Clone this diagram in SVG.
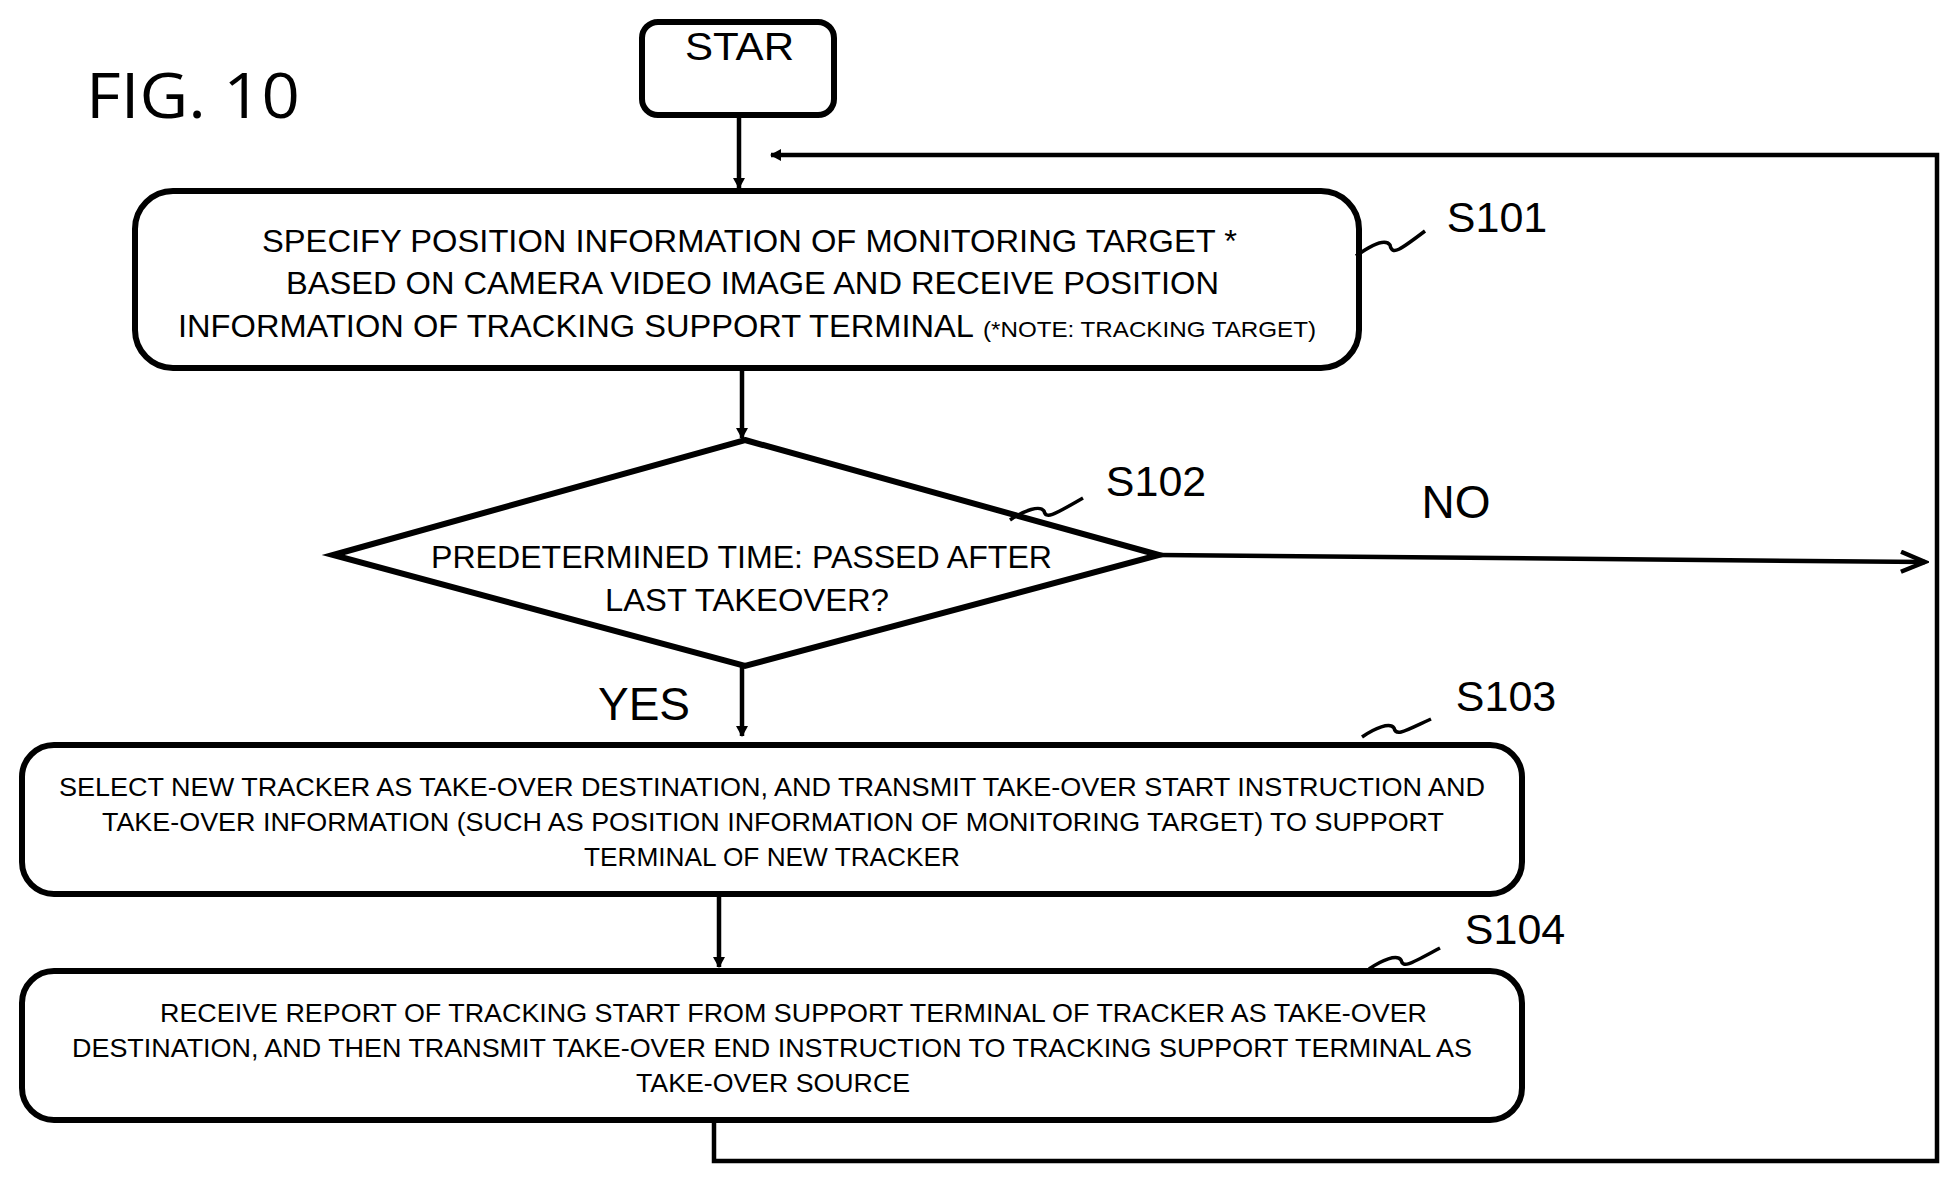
<svg xmlns="http://www.w3.org/2000/svg" width="1959" height="1183" viewBox="0 0 1959 1183">
<style>
text{font-family:"Liberation Sans",Arial,sans-serif;fill:#000}
.b{fill:#fff;stroke:#000;stroke-width:6}
.c{fill:none;stroke:#000;stroke-width:4.5}
.s{fill:none;stroke:#000;stroke-width:3.5}
.t{font-size:31px}
.u{font-size:26px}
.l{font-size:46px;text-anchor:middle}
</style>
<defs><marker id="a" markerWidth="12" markerHeight="12" refX="10" refY="6" orient="auto" markerUnits="userSpaceOnUse"><path d="M0,0 L11,6 L0,12" fill="#000"/></marker>
<marker id="o" markerWidth="30" markerHeight="30" refX="26" refY="12" orient="auto" markerUnits="userSpaceOnUse"><path d="M2,2 L26,12 L2,22" fill="none" stroke="#000" stroke-width="4.5"/></marker></defs>
<rect width="1959" height="1183" fill="#fff"/>
<text x="86" y="118" font-size="62" textLength="214" lengthAdjust="spacingAndGlyphs" style="font-family:'Open Sans','Liberation Sans',sans-serif">FIG. 10</text>
<g id="connectors">
<path class="c" d="M739,87 V188" marker-end="url(#a)"/>
<path class="c" d="M732,87 H746"/>
<path class="c" d="M742,369 V438" marker-end="url(#a)"/>
<path class="c" d="M1159,555 L1925,562" marker-end="url(#o)"/>
<path class="c" d="M742,666 V736" marker-end="url(#a)"/>
<path class="c" d="M719,894 V967" marker-end="url(#a)"/>
<path class="c" d="M714,1120 V1161 H1937 V155 H771" marker-end="url(#a)"/>
<text x="1456" y="518" class="l">NO</text>
<text x="644" y="720" class="l">YES</text>
</g>
<g id="start"><rect class="b" x="642" y="22" width="192" height="93" rx="16"/><text x="685" y="60" style="font-size:38px" textLength="109" lengthAdjust="spacingAndGlyphs">STAR</text></g>
<g id="s101"><rect class="b" x="135" y="191" width="1224" height="177" rx="38"/>
<text class="t" x="262" y="252" textLength="975" lengthAdjust="spacingAndGlyphs">SPECIFY POSITION INFORMATION OF MONITORING TARGET *</text>
<text class="t" x="286" y="294" textLength="933" lengthAdjust="spacingAndGlyphs">BASED ON CAMERA VIDEO IMAGE AND RECEIVE POSITION</text>
<text class="t" x="178" y="337" textLength="796" lengthAdjust="spacingAndGlyphs">INFORMATION OF TRACKING SUPPORT TERMINAL</text>
<text x="983" y="337" style="font-size:22px" textLength="333" lengthAdjust="spacingAndGlyphs">(*NOTE: TRACKING TARGET)</text>
<path class="s" d="M1356,256 C1370,246 1385,238 1390,245 C1392,256 1400,250 1425,231"/>
<text x="1497" y="232" style="font-size:43px" text-anchor="middle">S101</text></g>
<g id="s102"><polygon class="b" points="745,440 1159,555 745,666 333,555"/>
<text class="t" x="431" y="568" textLength="621" lengthAdjust="spacingAndGlyphs">PREDETERMINED TIME: PASSED AFTER</text>
<text class="t" x="605" y="611" textLength="284" lengthAdjust="spacingAndGlyphs">LAST TAKEOVER?</text>
<path class="s" d="M1010,520 C1025,510 1040,505 1044,511 C1046,520 1055,514 1083,498"/>
<text x="1156" y="496" style="font-size:43px" text-anchor="middle">S102</text></g>
<g id="s103"><rect class="b" x="22" y="745" width="1500" height="149" rx="32"/>
<text class="u" x="59" y="796" textLength="1426" lengthAdjust="spacingAndGlyphs">SELECT NEW TRACKER AS TAKE-OVER DESTINATION, AND TRANSMIT TAKE-OVER START INSTRUCTION AND</text>
<text class="u" x="102" y="831" textLength="1342" lengthAdjust="spacingAndGlyphs">TAKE-OVER INFORMATION (SUCH AS POSITION INFORMATION OF MONITORING TARGET) TO SUPPORT</text>
<text class="u" x="584" y="866" textLength="376" lengthAdjust="spacingAndGlyphs">TERMINAL OF NEW TRACKER</text>
<path class="s" d="M1362,737 C1375,728 1390,722 1394,728 C1396,737 1405,731 1431,719"/>
<text x="1506" y="711" style="font-size:43px" text-anchor="middle">S103</text></g>
<g id="s104"><rect class="b" x="22" y="971" width="1500" height="149" rx="32"/>
<text class="u" x="160" y="1022" textLength="1267" lengthAdjust="spacingAndGlyphs">RECEIVE REPORT OF TRACKING START FROM SUPPORT TERMINAL OF TRACKER AS TAKE-OVER</text>
<text class="u" x="72" y="1057" textLength="1400" lengthAdjust="spacingAndGlyphs">DESTINATION, AND THEN TRANSMIT TAKE-OVER END INSTRUCTION TO TRACKING SUPPORT TERMINAL AS</text>
<text class="u" x="636" y="1092" textLength="274" lengthAdjust="spacingAndGlyphs">TAKE-OVER SOURCE</text>
<path class="s" d="M1369,969 C1382,960 1397,954 1401,960 C1403,969 1412,963 1440,948"/>
<text x="1515" y="944" style="font-size:43px" text-anchor="middle">S104</text></g>
</svg>
